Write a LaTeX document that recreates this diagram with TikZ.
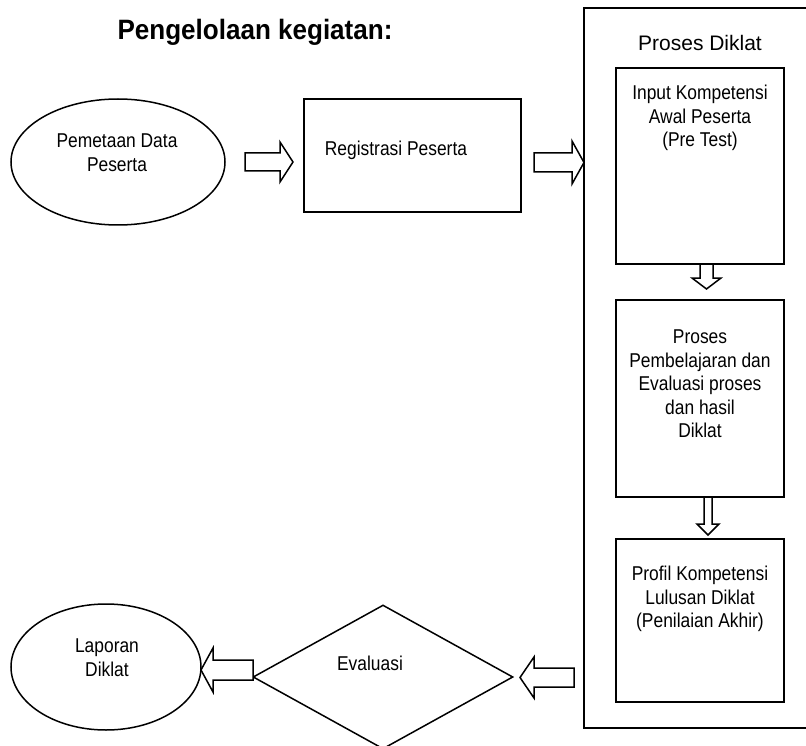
\documentclass[tikz,border=0pt]{standalone}
\usepackage{fontspec}
\setmainfont{Liberation Sans}
\newfontfamily\bodyfont[FakeStretch=0.87]{Liberation Sans}
\newfontfamily\headfont[FakeStretch=0.93]{Liberation Sans}
\usetikzlibrary{shapes.geometric,calc}
\begin{document}
\begin{tikzpicture}[x=1pt,y=-1pt,line width=1.5pt,line join=miter,
  outl/.style={draw,inner sep=0pt},
  boxs/.style={outl,rectangle},
  ovals/.style={outl,ellipse},
  txt/.style={align=center,inner sep=0pt,font=\bodyfont\fontsize{20}{23.5}\selectfont},
  bigtxt/.style={inner sep=0pt,font=\rmfamily\fontsize{21}{25}\selectfont},
  titletxt/.style={inner sep=0pt,font=\headfont\bfseries\fontsize{28}{32}\selectfont},
  blockarr/.style={draw,fill=white,line width=1.5pt,line join=miter}]
\clip (0,0) rectangle (806,746);
\fill[white] (0,0) rectangle (806,746);

% title
\node[titletxt] (title) at (255,32) {Pengelolaan kegiatan:};

% left column shapes
\node[ovals,minimum width=214,minimum height=126] (e1) at (118,162) {};
\node[txt] (e1t) at (117,152.5) {Pemetaan Data\\Peserta};

\node[boxs,minimum width=217,minimum height=113] (reg) at (412.5,155.5) {};
\node[txt] (regt) at (396,150) {Registrasi Peserta};

% process container
\node[boxs,minimum width=246,minimum height=720] (proc) at (707,368) {};
\node[bigtxt] (proct) at (700,43) {Proses Diklat};

\node[boxs,minimum width=168,minimum height=196] (b1) at (700,166) {};
\node[txt] (b1t) at (700,118) {Input Kompetensi\\Awal Peserta\\(Pre Test)};

\node[boxs,minimum width=168,minimum height=197] (b2) at (700,398.5) {};
\node[txt] (b2t) at (700,384) {Proses\\Pembelajaran dan\\Evaluasi proses\\dan hasil\\Diklat};

\node[boxs,minimum width=168,minimum height=163] (b3) at (700,620.5) {};
\node[txt] (b3t) at (700,599) {Profil Kompetensi\\Lulusan Diklat\\(Penilaian Akhir)};

% bottom row
\node[outl,diamond,minimum width=260,minimum height=144] (ev) at (383,677) {};
\node[txt] (evt) at (370,663) {Evaluasi};

\node[ovals,minimum width=190,minimum height=126] (e2) at (106,667) {};
\node[txt] (e2t) at (107,657.5) {Laporan\\Diklat};

% block arrows
\draw[blockarr] (245,153) -- (280,153) -- (280,142) -- (293,162) -- (280,182) -- (280,171) -- (245,171) -- cycle;
\draw[blockarr] (534,153) -- (572,153) -- (572,141) -- (584,162.5) -- (572,184) -- (572,172) -- (534,172) -- cycle;
\draw[blockarr] (700,264) -- (713,264) -- (713,278) -- (721,278) -- (706.5,289) -- (692,278) -- (700,278) -- cycle;
\draw[blockarr] (704,497) -- (712,497) -- (712,524) -- (719,524) -- (708,535) -- (697,524) -- (704,524) -- cycle;
\draw[blockarr] (574,668) -- (534,668) -- (534,657) -- (520,677.5) -- (534,698) -- (534,687) -- (574,687) -- cycle;
\draw[blockarr] (253,660) -- (213,660) -- (213,648) -- (201,670) -- (213,692) -- (213,680) -- (253,680) -- cycle;
\end{tikzpicture}
\end{document}
